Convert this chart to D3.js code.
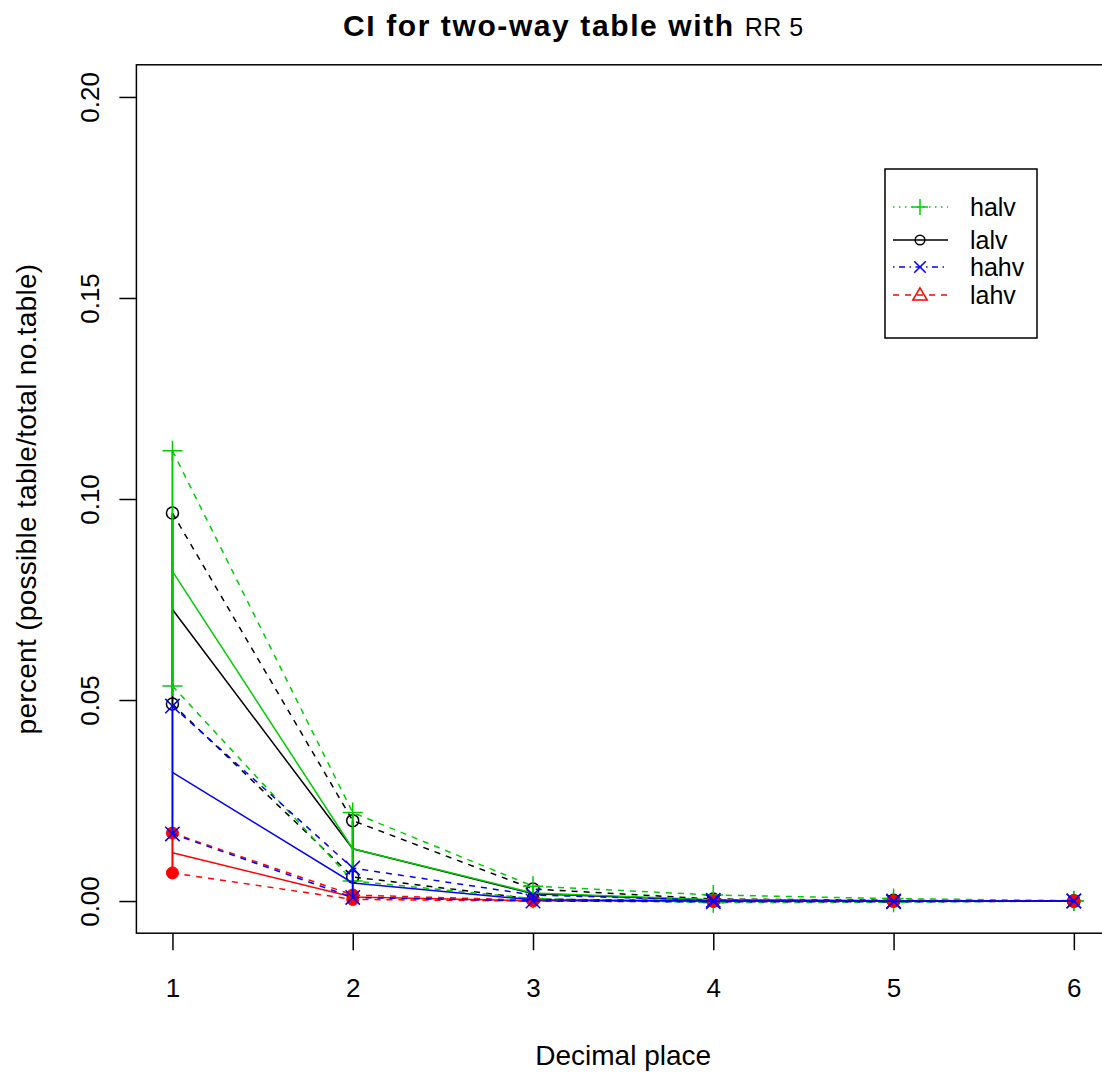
<!DOCTYPE html>
<meta charset="utf-8">

<!-- Load d3.js -->
<script src="https://d3js.org/d3.v7.min.js"></script>

<style>
    body { margin: 0; background: white; }
    text { font-family: "Liberation Sans", Arial, sans-serif; }
</style>

<!-- Create an element where the chart will take place -->
<svg id="my_dataviz" width="1102" height="1072"></svg>

<script>

    // Data
    const decimalPlaces = [1, 2, 3, 4, 5, 6];
    const yTicks = [0.00, 0.05, 0.10, 0.15, 0.20];

    // halv (green)
    const halvMean = [0.082, 0.013, 0.002, 0.0003, 0.0001, 0];
    const halvUpper = [0.112, 0.022, 0.0037, 0.0015, 0.0006, 0.0001];
    const halvLower = [0.0535, 0.005, 0.0006, -0.0004, -0.0003, 0];

    // lalv (black)
    const lalvMean = [0.0725, 0.013, 0.0018, 0.0002, 0.0001, 0];
    const lalvUpper = [0.0965, 0.020, 0.003, 0.0005, 0.0002, 0];
    const lalvLower = [0.049, 0.006, 0.0005, 0, 0, 0];

    // hahv (blue)
    const hahvMean = [0.032, 0.0045, 0.0003, 0, 0, 0];
    const hahvUpper = [0.0485, 0.0082, 0.0015, 0.0002, 0, 0];
    const hahvLower = [0.0167, 0.0009, 0, -0.0002, -0.0002, 0];

    // lahv (red)
    const lahvMean = [0.012, 0.001, 0.0001, 0, 0, 0];
    const lahvUpper = [0.0169, 0.0015, 0.0002, 0, 0, 0];
    const lahvLower = [0.007, 0.0004, 0, 0, 0, 0];

    // The svg
    const svg = d3.select("svg");

    // scales (R style 4% padding)
    const x = d3.scaleLinear().domain([0.8, 6.2]).range([136.4, 1109.9]);
    const y = d3.scaleLinear().domain([-0.008, 0.208]).range([933.2, 64.8]);

    const groups = [
        { name: "lalv", color: "black", mean: lalvMean, upper: lalvUpper, lower: lalvLower, shape: "circle" },
        { name: "halv", color: "#00cc00", mean: halvMean, upper: halvUpper, lower: halvLower, shape: "plus" },
        { name: "lahv", color: "red", mean: lahvMean, upper: lahvUpper, lower: lahvLower, shape: "dot" },
        { name: "hahv", color: "blue", mean: hahvMean, upper: hahvUpper, lower: hahvLower, shape: "cross" }
    ];

    function drawMarker(g, shape, cx, cy, color, s) {
        if (shape === "plus") {
            g.append("path").attr("d", `M${cx - s},${cy}H${cx + s}M${cx},${cy - s}V${cy + s}`)
                .attr("stroke", color).attr("stroke-width", 1.5).attr("fill", "none");
        } else if (shape === "cross") {
            const d = s * 0.72;
            g.append("path").attr("d", `M${cx - d},${cy - d}L${cx + d},${cy + d}M${cx - d},${cy + d}L${cx + d},${cy - d}`)
                .attr("stroke", color).attr("stroke-width", 1.5).attr("fill", "none");
        } else if (shape === "circle") {
            g.append("circle").attr("cx", cx).attr("cy", cy).attr("r", s * 0.6)
                .attr("stroke", color).attr("stroke-width", 1.5).attr("fill", "none");
        } else if (shape === "dot") {
            g.append("circle").attr("cx", cx).attr("cy", cy).attr("r", s * 0.6)
                .attr("stroke", color).attr("stroke-width", 1).attr("fill", color);
        } else if (shape === "triangle") {
            const h = s * 0.9;
            g.append("path").attr("d", `M${cx},${cy - h}L${cx + h},${cy + h * 0.7}L${cx - h},${cy + h * 0.7}Z`)
                .attr("stroke", color).attr("stroke-width", 1.5).attr("fill", "none");
        }
    }

    const plot = svg.append("g");

    groups.forEach(function (grp) {
        const g = plot.append("g");
        const line = d3.line()
            .x((d, i) => x(decimalPlaces[i]))
            .y(d => y(d));

        // CI bounds
        [grp.upper, grp.lower].forEach(function (arr) {
            g.append("path")
                .datum(arr)
                .attr("d", line)
                .attr("fill", "none")
                .attr("stroke", grp.color)
                .attr("stroke-width", 1.5)
                .attr("stroke-dasharray", "6,6");
        });

        // point estimate
        g.append("path")
            .datum(grp.mean)
            .attr("d", line)
            .attr("fill", "none")
            .attr("stroke", grp.color)
            .attr("stroke-width", 1.5);

        // vertical CI segments
        decimalPlaces.forEach(function (dp, i) {
            g.append("line")
                .attr("x1", x(dp)).attr("x2", x(dp))
                .attr("y1", y(grp.lower[i])).attr("y2", y(grp.upper[i]))
                .attr("stroke", grp.color)
                .attr("stroke-width", 2);
            drawMarker(g, grp.shape, x(dp), y(grp.upper[i]), grp.color, 10);
            drawMarker(g, grp.shape, x(dp), y(grp.lower[i]), grp.color, 10);
        });
    });

    // box
    svg.append("rect")
        .attr("x", x.range()[0]).attr("y", y.range()[1])
        .attr("width", x.range()[1] - x.range()[0])
        .attr("height", y.range()[0] - y.range()[1])
        .attr("fill", "none")
        .attr("stroke", "black")
        .attr("stroke-width", 1.5);

    // x axis
    const xAxis = svg.append("g")
        .attr("transform", `translate(0,${y.range()[0]})`)
        .call(d3.axisBottom(x).tickValues(decimalPlaces).tickSize(17).tickPadding(28).tickFormat(d3.format("d")));
    xAxis.select(".domain").remove();
    xAxis.selectAll("line").attr("stroke-width", 1.5);
    xAxis.selectAll("text").attr("font-size", 26).attr("font-family", "Liberation Sans, Arial, sans-serif");

    // y axis
    const yAxis = svg.append("g")
        .attr("transform", `translate(${x.range()[0]},0)`)
        .call(d3.axisLeft(y).tickValues(yTicks).tickSize(17).tickFormat(d3.format(".2f")));
    yAxis.select(".domain").remove();
    yAxis.selectAll("line").attr("stroke-width", 1.5);
    yAxis.selectAll("text")
        .attr("font-size", 26)
        .attr("font-family", "Liberation Sans, Arial, sans-serif")
        .attr("text-anchor", "middle")
        .attr("dy", null)
        .attr("x", null)
        .attr("transform", "translate(-37,0) rotate(-90)");

    // titles
    const title = svg.append("text")
        .attr("x", 343).attr("y", 36)
        .attr("font-size", 30)
        .attr("letter-spacing", 1.6)
        .attr("font-weight", "bold");
    title.append("tspan").text("CI for two-way table with ");
    title.append("tspan").attr("font-weight", "normal").attr("font-size", 25).attr("letter-spacing", 0.5).text("RR 5");

    svg.append("text")
        .attr("x", (x(1) + x(6)) / 2).attr("y", 1065)
        .attr("text-anchor", "middle")
        .attr("font-size", 28)
        .text("Decimal place");

    svg.append("text")
        .attr("transform", `translate(36,${(y.range()[0] + y.range()[1]) / 2}) rotate(-90)`)
        .attr("text-anchor", "middle")
        .attr("font-size", 28)
        .attr("letter-spacing", 0.3)
        .text("percent (possible table/total no.table)");

    // legend
    const legendNames = ["halv", "lalv", "hahv", "lahv"];
    const legendColors = ["#00cc00", "black", "blue", "red"];
    const legendShapes = ["plus", "circle", "cross", "triangle"];
    const legendDash = ["1.5,4.5", null, "1.5,4.5,6,4.5", "6,6"];
    const legendY = [207, 240, 267, 295];

    const legend = svg.append("g");
    legend.append("rect")
        .attr("x", 885).attr("y", 169).attr("width", 152).attr("height", 169)
        .attr("fill", "white").attr("stroke", "black").attr("stroke-width", 1.5);

    legendNames.forEach(function (name, i) {
        legend.append("line")
            .attr("x1", 893).attr("x2", 948)
            .attr("y1", legendY[i]).attr("y2", legendY[i])
            .attr("stroke", legendColors[i])
            .attr("stroke-width", 1.5)
            .attr("stroke-dasharray", legendDash[i]);
        drawMarker(legend, legendShapes[i], 920, legendY[i], legendColors[i], 8);
        legend.append("text")
            .attr("x", 970).attr("y", legendY[i])
            .attr("dy", "0.36em")
            .attr("font-size", 25)
            .text(name);
    });

</script>
